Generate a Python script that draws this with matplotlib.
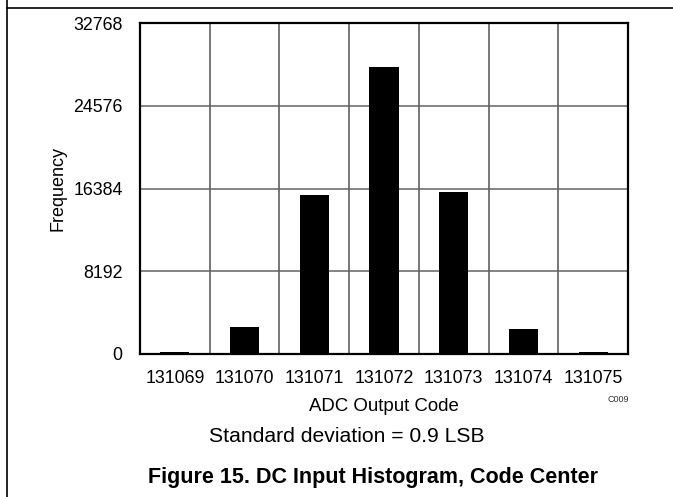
import matplotlib
matplotlib.use("Agg")
import matplotlib.pyplot as plt
from matplotlib.lines import Line2D

plt.rcParams['font.family'] = ['Liberation Sans', 'DejaVu Sans']

codes = ["131069", "131070", "131071", "131072", "131073", "131074", "131075"]
frequency = [180, 2640, 15750, 28460, 16080, 2510, 170]
yticks = [0, 8192, 16384, 24576, 32768]

W, H = 673, 497
fig = plt.figure(figsize=(W / 100, H / 100), dpi=100)
fig.patch.set_facecolor("white")

# page frame lines
fig.add_artist(Line2D([7 / W, 7 / W], [0, 1], color="black", lw=1.2, transform=fig.transFigure))
fig.add_artist(Line2D([7 / W, 1], [1 - 8 / H, 1 - 8 / H], color="black", lw=1.2, transform=fig.transFigure))

left, right, top, bottom = 140, 628, 23, 354
ax = fig.add_axes([left / W, 1 - bottom / H, (right - left) / W, (bottom - top) / H])

x = list(range(len(codes)))
ax.bar(x, frequency, width=0.42, color="black", zorder=3)

ax.set_xlim(-0.5, len(codes) - 0.5)
ax.set_ylim(0, 32768)
ax.set_yticks(yticks)
ax.set_yticklabels([str(v) for v in yticks], fontsize=12.8)
ax.set_xticks(x)
ax.set_xticklabels(codes, fontsize=12.8)
ax.tick_params(axis="both", length=0, pad=11.5)
ax.tick_params(axis="y", pad=12.5)

for yv in yticks[1:-1]:
    ax.axhline(yv, color="#707070", lw=1.2, zorder=1)
for xv in range(len(codes) - 1):
    ax.axvline(xv + 0.5, color="#606060", lw=1.2, zorder=1)

for s in ax.spines.values():
    s.set_color("black")
    s.set_linewidth(1.6)

ax.set_ylabel("Frequency", fontsize=13, labelpad=5)
ax.set_xlabel("ADC Output Code", fontsize=13.4, labelpad=8)

fig.text(618 / W, 1 - 399 / H, "C009", fontsize=6.5, ha="center", va="center", color="#333333")
fig.text(346.5 / W, 1 - 436 / H, "Standard deviation = 0.9 LSB", fontsize=15.2, ha="center", va="center")
fig.text(373 / W, 1 - 478 / H, "Figure 15. DC Input Histogram, Code Center", fontsize=15.5,
         fontweight="bold", ha="center", va="center")

fig.savefig("out.png", dpi=100)
